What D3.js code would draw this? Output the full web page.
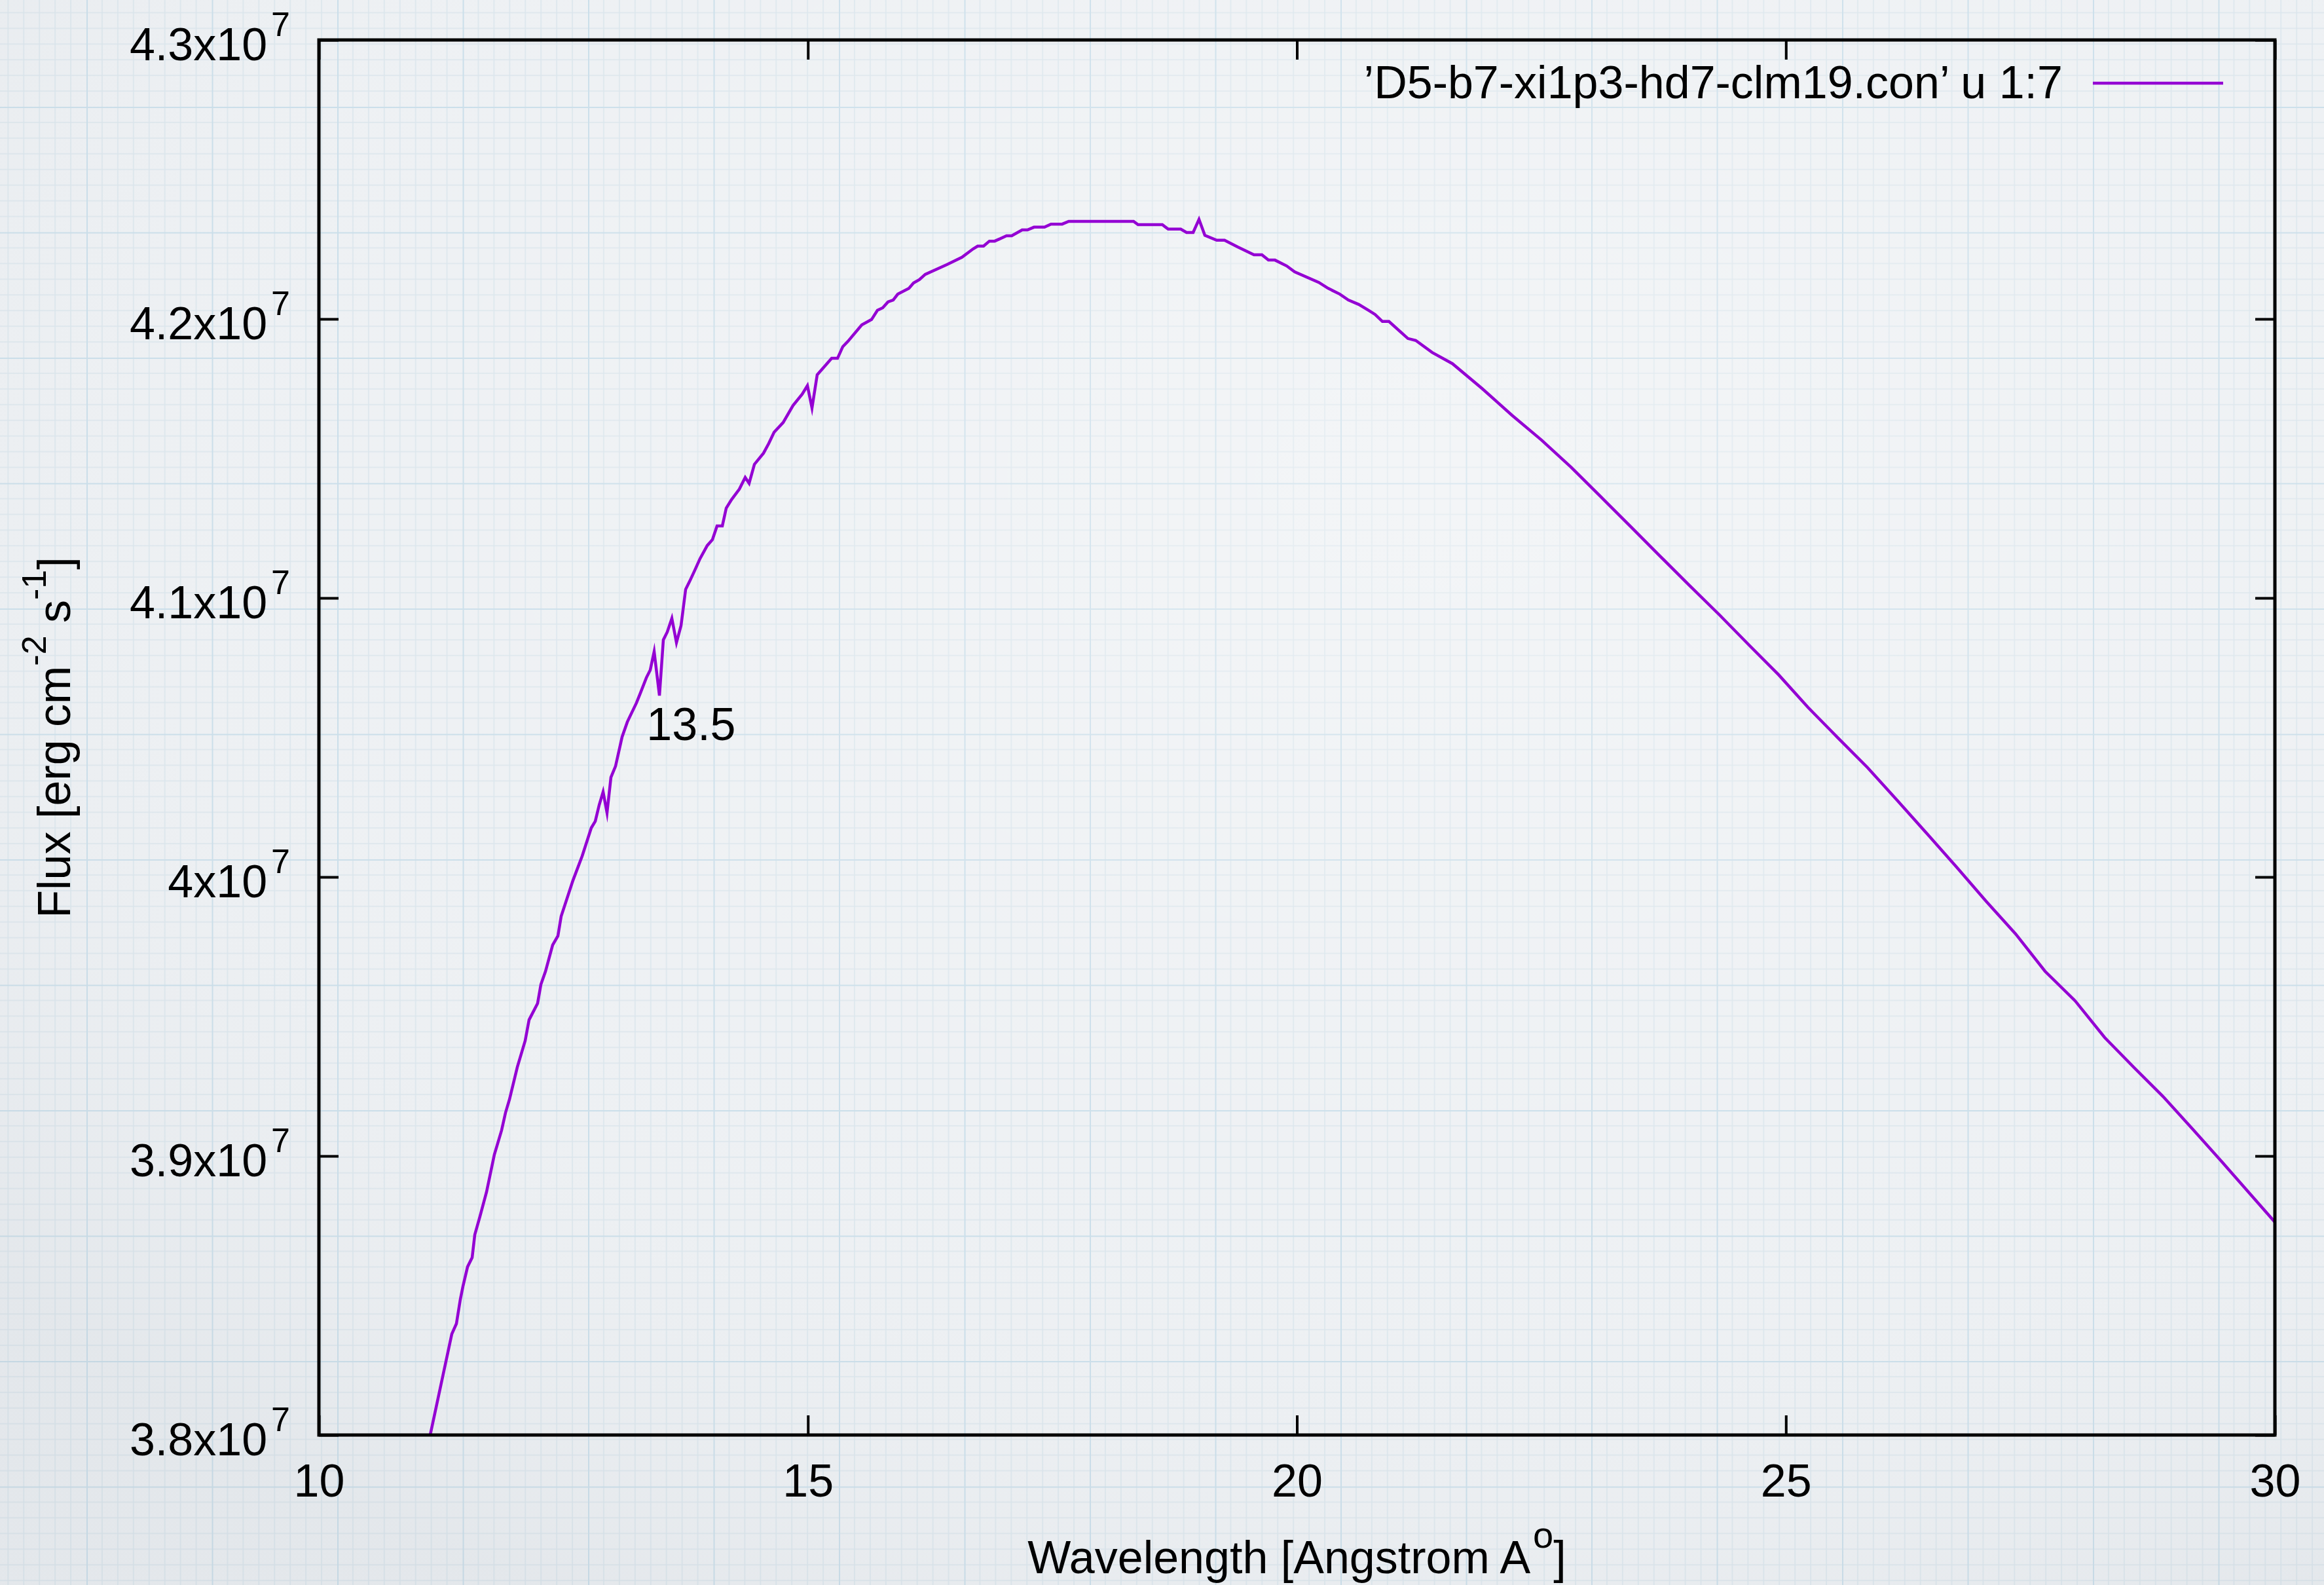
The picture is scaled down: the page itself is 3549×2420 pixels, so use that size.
<!DOCTYPE html>
<html>
<head>
<meta charset="utf-8">
<script src="https://cdn.jsdelivr.net/npm/d3@7"></script>
<style>
  html, body { margin: 0; padding: 0; background: #edf0f3; }
  svg { display: block; }
  text { font-family: "Liberation Sans", Arial, Helvetica, sans-serif; fill: #000; }
</style>
</head>
<body>
<svg id="chart" width="3549" height="2420"></svg>
<script>
// ---------------- DATA ----------------
const wavelength = [
  11.138, 11.359, 11.406, 11.446, 11.473, 11.520, 11.567, 11.594, 11.647, 11.714,
  11.794, 11.868, 11.908, 11.948, 12.029, 12.109, 12.149, 12.236, 12.270, 12.317,
  12.390, 12.444, 12.477, 12.598, 12.692, 12.785, 12.826, 12.866, 12.906, 12.946,
  12.986, 13.033, 13.100, 13.154, 13.247, 13.288, 13.348, 13.388, 13.428, 13.482,
  13.522, 13.562, 13.609, 13.656, 13.703, 13.750, 13.790, 13.843, 13.897, 13.971,
  14.024, 14.071, 14.125, 14.165, 14.218, 14.299, 14.359, 14.399, 14.453, 14.546,
  14.600, 14.654, 14.747, 14.848, 14.941, 14.995, 15.042, 15.095, 15.243, 15.303,
  15.357, 15.410, 15.551, 15.651, 15.711, 15.765, 15.819, 15.872, 15.919, 16.033,
  16.080, 16.140, 16.200, 16.421, 16.575, 16.689, 16.736, 16.796, 16.856, 16.910,
  17.031, 17.084, 17.191, 17.245, 17.312, 17.419, 17.486, 17.600, 17.667, 18.330,
  18.376, 18.624, 18.684, 18.812, 18.872, 18.939, 18.999, 19.059, 19.180, 19.260,
  19.394, 19.561, 19.642, 19.709, 19.776, 19.896, 19.977, 20.224, 20.318, 20.439,
  20.526, 20.633, 20.747, 20.800, 20.874, 20.941, 21.135, 21.215, 21.383, 21.590,
  21.892, 22.199, 22.501, 22.802, 23.104, 23.412, 23.713, 24.014, 24.322, 24.624,
  24.925, 25.226, 25.534, 25.835, 26.137, 26.438, 26.746, 27.047, 27.349, 27.650,
  27.958, 28.259, 28.560, 28.868, 29.170, 29.471, 30.000
];
const flux = [
  3.8000e7, 3.8362e7, 3.8399e7, 3.8486e7, 3.8533e7, 3.8603e7, 3.8636e7, 3.8718e7, 3.8784e7, 3.8871e7,
  3.9005e7, 3.9092e7, 3.9155e7, 3.9202e7, 3.9319e7, 3.9413e7, 3.9488e7, 3.9547e7, 3.9615e7, 3.9662e7,
  3.9756e7, 3.9789e7, 3.9859e7, 3.9988e7, 4.0075e7, 4.0176e7, 4.0200e7, 4.0258e7, 4.0305e7, 4.0230e7,
  4.0357e7, 4.0397e7, 4.0502e7, 4.0556e7, 4.0624e7, 4.0660e7, 4.0714e7, 4.0742e7, 4.0808e7, 4.0650e7,
  4.0850e7, 4.0878e7, 4.0927e7, 4.0840e7, 4.0901e7, 4.1031e7, 4.1059e7, 4.1099e7, 4.1141e7, 4.1188e7,
  4.1209e7, 4.1258e7, 4.1258e7, 4.1322e7, 4.1352e7, 4.1390e7, 4.1432e7, 4.1411e7, 4.1479e7, 4.1519e7,
  4.1554e7, 4.1594e7, 4.1629e7, 4.1690e7, 4.1730e7, 4.1761e7, 4.1681e7, 4.1800e7, 4.1859e7, 4.1859e7,
  4.1901e7, 4.1920e7, 4.1979e7, 4.1998e7, 4.2031e7, 4.2040e7, 4.2061e7, 4.2068e7, 4.2089e7, 4.2110e7,
  4.2129e7, 4.2141e7, 4.2160e7, 4.2195e7, 4.2221e7, 4.2251e7, 4.2261e7, 4.2261e7, 4.2279e7, 4.2279e7,
  4.2298e7, 4.2298e7, 4.2319e7, 4.2319e7, 4.2329e7, 4.2329e7, 4.2340e7, 4.2340e7, 4.2350e7, 4.2350e7,
  4.2338e7, 4.2338e7, 4.2322e7, 4.2322e7, 4.2310e7, 4.2310e7, 4.2357e7, 4.2300e7, 4.2282e7, 4.2282e7,
  4.2258e7, 4.2230e7, 4.2230e7, 4.2211e7, 4.2211e7, 4.2190e7, 4.2169e7, 4.2131e7, 4.2110e7, 4.2089e7,
  4.2068e7, 4.2052e7, 4.2028e7, 4.2016e7, 4.1991e7, 4.1991e7, 4.1930e7, 4.1923e7, 4.1880e7, 4.1840e7,
  4.1751e7, 4.1655e7, 4.1566e7, 4.1469e7, 4.1364e7, 4.1256e7, 4.1150e7, 4.1045e7, 4.0939e7, 4.0831e7,
  4.0725e7, 4.0608e7, 4.0498e7, 4.0392e7, 4.0275e7, 4.0157e7, 4.0035e7, 3.9913e7, 3.9796e7, 3.9662e7,
  3.9556e7, 3.9425e7, 3.9317e7, 3.9209e7, 3.9092e7, 3.8974e7, 3.8763e7
];
const xTicks = [10, 15, 20, 25, 30];
const yTicks = [3.8e7, 3.9e7, 4.0e7, 4.1e7, 4.2e7, 4.3e7];
const yTickMantissa = ["3.8", "3.9", "4", "4.1", "4.2", "4.3"];
const yTickExponent = "7";
const xDomain = [10, 30];
const yDomain = [3.8e7, 4.3e7];
const legendLabel = "\u2019D5-b7-xi1p3-hd7-clm19.con\u2019 u 1:7";
const annotations = [{ x: 13.35, y: 4.049e7, text: "13.5" }];

// ---------------- LAYOUT ----------------
const W = 3549, H = 2420;
const plot = { left: 487, right: 3474, top: 61, bottom: 2191 };
const FS = 70, SUP = 52, SUPSHIFT = 37;
const lineColor = "#9400d3";

const svg = d3.select("#chart");

// ---------- background: graph paper ----------
const defs = svg.append("defs");
const major = 191.5, minor = major / 8;
const pat = defs.append("pattern")
  .attr("id", "paper").attr("patternUnits", "userSpaceOnUse")
  .attr("x", 132).attr("y", 163).attr("width", major).attr("height", major);
pat.append("rect").attr("width", major).attr("height", major).attr("fill", "#edf0f3");
for (let i = 1; i < 8; i++) {
  pat.append("line").attr("x1", i * minor).attr("x2", i * minor).attr("y1", 0).attr("y2", major)
    .attr("stroke", "#d9e5ec").attr("stroke-width", 1.6);
  pat.append("line").attr("y1", i * minor).attr("y2", i * minor).attr("x1", 0).attr("x2", major)
    .attr("stroke", "#d9e5ec").attr("stroke-width", 1.6);
}
pat.append("line").attr("x1", 0).attr("x2", 0).attr("y1", 0).attr("y2", major)
  .attr("stroke", "#c8dde9").attr("stroke-width", 4);
pat.append("line").attr("y1", 0).attr("y2", 0).attr("x1", 0).attr("x2", major)
  .attr("stroke", "#c8dde9").attr("stroke-width", 4);

const vg = defs.append("radialGradient").attr("id", "vign")
  .attr("cx", "62%").attr("cy", "30%").attr("r", "80%");
vg.append("stop").attr("offset", "0%").attr("stop-color", "#ffffff").attr("stop-opacity", 0.35);
vg.append("stop").attr("offset", "60%").attr("stop-color", "#ffffff").attr("stop-opacity", 0.05);
vg.append("stop").attr("offset", "100%").attr("stop-color", "#b8c0c8").attr("stop-opacity", 0.18);

svg.append("rect").attr("width", W).attr("height", H).attr("fill", "url(#paper)");
svg.append("rect").attr("width", W).attr("height", H).attr("fill", "url(#vign)");

// ---------- scales ----------
const x = d3.scaleLinear().domain(xDomain).range([plot.left, plot.right]);
const y = d3.scaleLinear().domain(yDomain).range([plot.bottom, plot.top]);

// ---------- axes (inward ticks on all four sides) ----------
const TICK = 30;
function styleAxis(g) {
  g.select(".domain").remove();
  g.selectAll(".tick line").attr("stroke", "#000").attr("stroke-width", 4);
}
const gB = svg.append("g").attr("transform", `translate(0,${plot.bottom})`)
  .call(d3.axisBottom(x).tickValues(xTicks).tickSize(-TICK).tickPadding(0).tickFormat(d3.format("d")));
styleAxis(gB);
gB.selectAll(".tick text")
  .attr("y", 94).attr("dy", null)
  .attr("font-size", FS).attr("font-family", null).attr("fill", "#000");

const gT = svg.append("g").attr("transform", `translate(0,${plot.top})`)
  .call(d3.axisTop(x).tickValues(xTicks).tickSize(-TICK).tickFormat(""));
styleAxis(gT);

const gL = svg.append("g").attr("transform", `translate(${plot.left},0)`)
  .call(d3.axisLeft(y).tickValues(yTicks).tickSize(-TICK).tickFormat(""));
styleAxis(gL);
const gR = svg.append("g").attr("transform", `translate(${plot.right},0)`)
  .call(d3.axisRight(y).tickValues(yTicks).tickSize(-TICK).tickFormat(""));
styleAxis(gR);

// y tick labels with superscript exponent
yTicks.forEach((v, i) => {
  const t = svg.append("text")
    .attr("x", 443).attr("y", y(v) + 31)
    .attr("text-anchor", "end").attr("font-size", FS);
  t.append("tspan").text(yTickMantissa[i] + "x10");
  t.append("tspan").attr("dy", -SUPSHIFT).attr("dx", 6).attr("font-size", SUP).text(yTickExponent);
});

// ---------- curve ----------
defs.append("clipPath").attr("id", "clip").append("rect")
  .attr("x", plot.left).attr("y", plot.top)
  .attr("width", plot.right - plot.left).attr("height", plot.bottom - plot.top);

const pts = d3.zip(wavelength, flux);
const line = d3.line().x(d => x(d[0])).y(d => y(d[1]));
svg.append("path").datum(pts)
  .attr("clip-path", "url(#clip)")
  .attr("d", line)
  .attr("fill", "none").attr("stroke", lineColor).attr("stroke-width", 4.5)
  .attr("stroke-linejoin", "miter").attr("stroke-miterlimit", 10);

// ---------- frame ----------
svg.append("rect")
  .attr("x", plot.left).attr("y", plot.top)
  .attr("width", plot.right - plot.left).attr("height", plot.bottom - plot.top)
  .attr("fill", "none").attr("stroke", "#000").attr("stroke-width", 5);

// ---------- annotation ----------
annotations.forEach(a => {
  svg.append("text").attr("x", x(a.x)).attr("y", y(a.y))
    .attr("font-size", FS).attr("text-anchor", "start").text(a.text);
});

// ---------- legend ----------
svg.append("text").attr("x", 3150).attr("y", 150)
  .attr("text-anchor", "end").attr("font-size", FS).text(legendLabel);
svg.append("line").attr("x1", 3196).attr("x2", 3395).attr("y1", 127).attr("y2", 127)
  .attr("stroke", lineColor).attr("stroke-width", 4.5);

// ---------- axis titles ----------
const cx = (plot.left + plot.right) / 2, cy = (plot.top + plot.bottom) / 2;
const xt = svg.append("text").attr("x", cx).attr("y", 2402)
  .attr("text-anchor", "middle").attr("font-size", FS);
xt.append("tspan").text("Wavelength [Angstrom A");
xt.append("tspan").attr("dy", -39).attr("dx", 4).attr("font-size", SUP + 4).text("o");
xt.append("tspan").attr("dy", 39).attr("font-size", FS).text("]");

const yt = svg.append("text").attr("transform", `translate(107,${cy}) rotate(-90)`)
  .attr("text-anchor", "middle").attr("font-size", FS);
yt.append("tspan").text("Flux [erg cm");
yt.append("tspan").attr("dy", -SUPSHIFT).attr("font-size", SUP).text("-2");
yt.append("tspan").attr("dy", SUPSHIFT).attr("font-size", FS).text(" s");
yt.append("tspan").attr("dy", -SUPSHIFT).attr("font-size", SUP).text("-1");
yt.append("tspan").attr("dy", SUPSHIFT).attr("font-size", FS).text("]");
</script>
</body>
</html>
